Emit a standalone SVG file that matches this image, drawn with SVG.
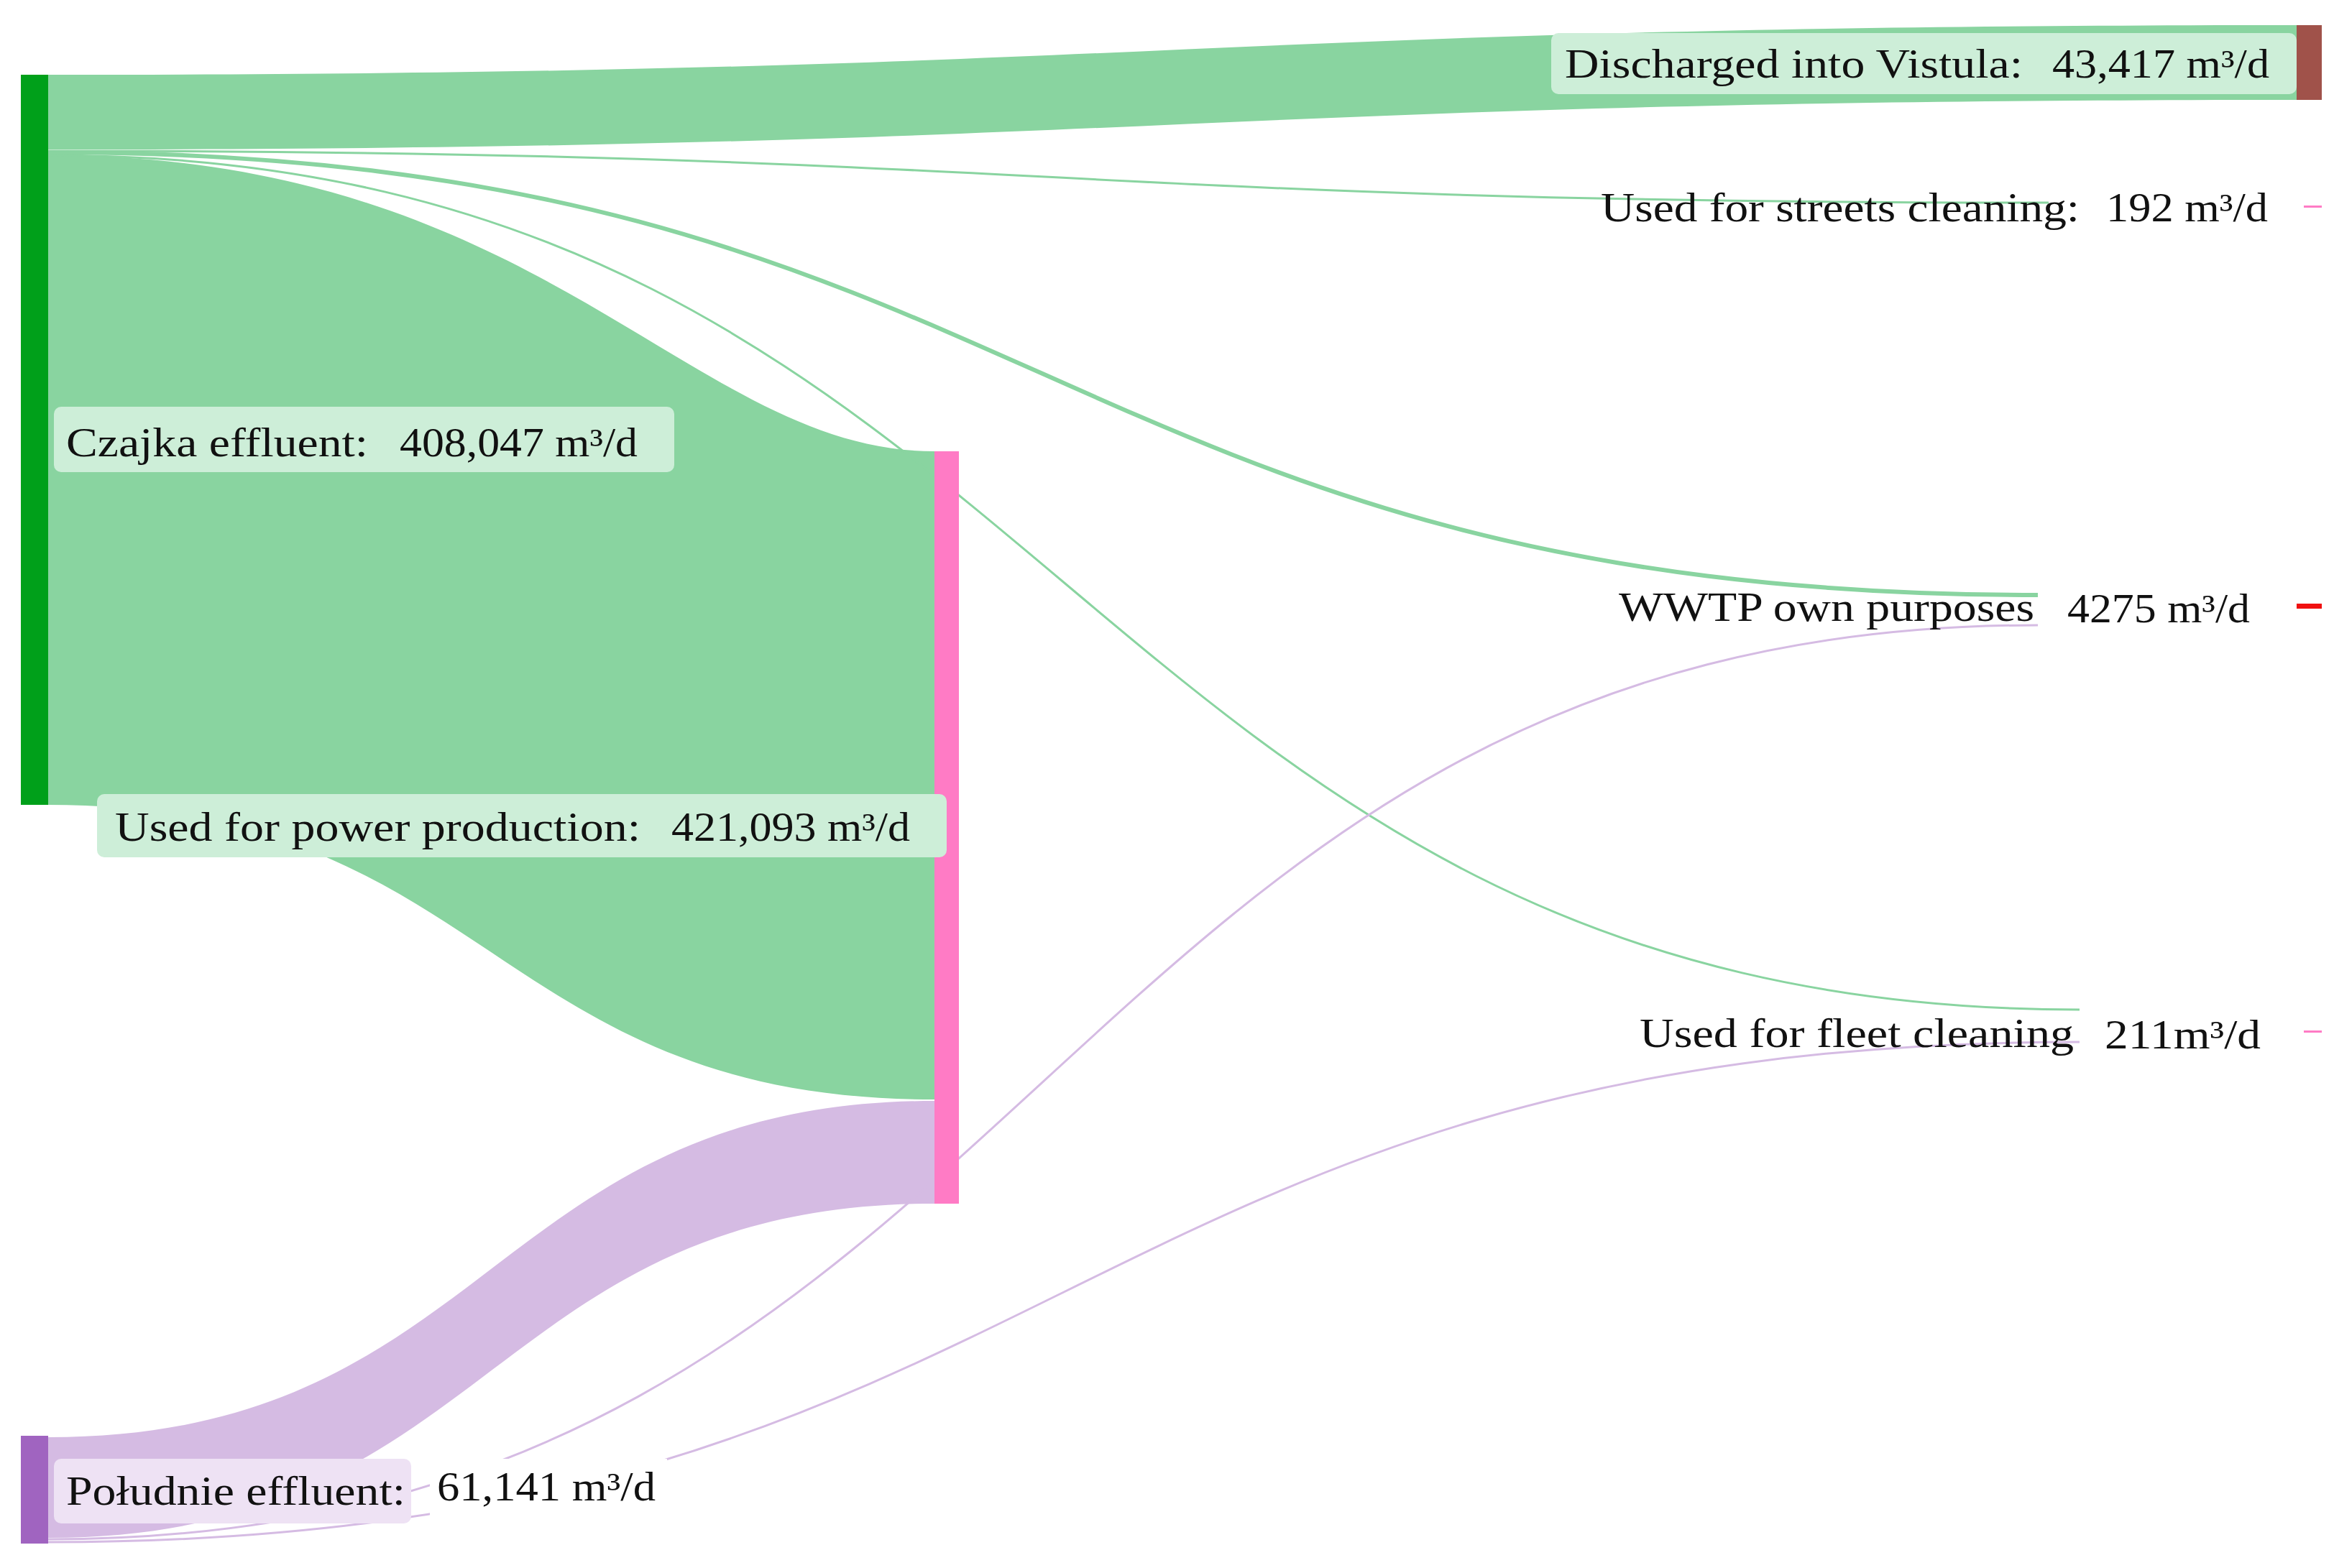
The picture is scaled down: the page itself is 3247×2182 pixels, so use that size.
<svg xmlns="http://www.w3.org/2000/svg" width="3247" height="2182" viewBox="0 0 3247 2182">
<style>
.t{font-family:"Liberation Serif","Times New Roman",serif;font-size:56px;fill:#111}
.gf{fill:#89d4a0}
.pf{fill:#d5bbe3}
.gl{fill:none;stroke:#89d4a0}
.pl{fill:none;stroke:#d5bbe3}
.gb{fill:#cdeed8}
</style>
<rect width="3247" height="2182" fill="#fff"/>
<g id="connectors">
<path class="gf" d="M67,104 C1631,104 1631,35 3195,35 L3195,139 C1631,139 1631,208 67,208 Z"/>
<path class="gf" d="M67,216 C760,216 960,628 1300,628 L1300,1530 C683,1530 683,1120 67,1120 Z"/>
<path class="pf" d="M67,2000 C683,2000 683,1532 1300,1532 L1300,1675 C683,1675 683,2140 67,2140 Z"/>
<path class="gl" stroke-width="3" d="M67,210 C1450,210 1450,282 2850,282"/>
<path class="gl" stroke-width="6" d="M67,212 C1450,212 1450,828 2835,828"/>
<path class="gl" stroke-width="3" d="M67,216 C1480,216 1480,1405 2893,1405"/>
<path class="pl" stroke-width="3" d="M67,2142 C1450,2142 1450,870 2835,870"/>
<path class="pl" stroke-width="3" d="M67,2146 C1480,2146 1480,1450 2893,1450"/>
</g>
<g id="czajka">
<rect x="29" y="104" width="38" height="1016" fill="#00a01a"/>
<rect class="gb" x="75" y="566" width="863" height="91" rx="10"/>
<text class="t" x="92" y="635" textLength="420" lengthAdjust="spacingAndGlyphs">Czajka effluent:</text>
<text class="t" x="556" y="635" textLength="331" lengthAdjust="spacingAndGlyphs">408,047 m³/d</text>
</g>
<g id="poludnie">
<rect x="29" y="1998" width="38" height="150" fill="#a064c0"/>
<rect x="75" y="2030" width="497" height="90" rx="10" fill="#eee2f4"/>
<rect x="598" y="2030" width="330" height="90" fill="#fff"/>
<text class="t" x="92" y="2094" textLength="472" lengthAdjust="spacingAndGlyphs">Południe effluent:</text>
<text class="t" x="608" y="2088" textLength="304" lengthAdjust="spacingAndGlyphs">61,141 m³/d</text>
</g>
<g id="power">
<rect x="1300" y="628" width="34" height="1047" fill="#ff7bc5"/>
<rect class="gb" x="135" y="1105" width="1182" height="88" rx="10"/>
<text class="t" x="160" y="1170" textLength="731" lengthAdjust="spacingAndGlyphs">Used for power production:</text>
<text class="t" x="934" y="1170" textLength="332" lengthAdjust="spacingAndGlyphs">421,093 m³/d</text>
</g>
<g id="vistula">
<rect x="3195" y="35" width="35" height="104" fill="#a0524a"/>
<rect class="gb" x="2158" y="46" width="1037" height="85" rx="10"/>
<text class="t" x="2177" y="108" textLength="637" lengthAdjust="spacingAndGlyphs">Discharged into Vistula:</text>
<text class="t" x="2855" y="108" textLength="302" lengthAdjust="spacingAndGlyphs">43,417 m³/d</text>
</g>
<g id="streets">
<rect x="3205" y="286" width="25" height="3" fill="#ff7bc5"/>
<text class="t" x="2227" y="308" textLength="666" lengthAdjust="spacingAndGlyphs">Used for streets cleaning:</text>
<text class="t" x="2930" y="308" textLength="225" lengthAdjust="spacingAndGlyphs">192 m³/d</text>
</g>
<g id="wwtp">
<rect x="3195" y="840" width="35" height="7" fill="#f01010"/>
<text class="t" x="2252" y="864" textLength="578" lengthAdjust="spacingAndGlyphs">WWTP own purposes</text>
<text class="t" x="2876" y="866" textLength="254" lengthAdjust="spacingAndGlyphs">4275 m³/d</text>
</g>
<g id="fleet">
<rect x="3205" y="1434" width="25" height="3" fill="#ff7bc5"/>
<text class="t" x="2281" y="1457" textLength="604" lengthAdjust="spacingAndGlyphs">Used for fleet cleaning</text>
<text class="t" x="2928" y="1459" textLength="217" lengthAdjust="spacingAndGlyphs">211m³/d</text>
</g>
</svg>
